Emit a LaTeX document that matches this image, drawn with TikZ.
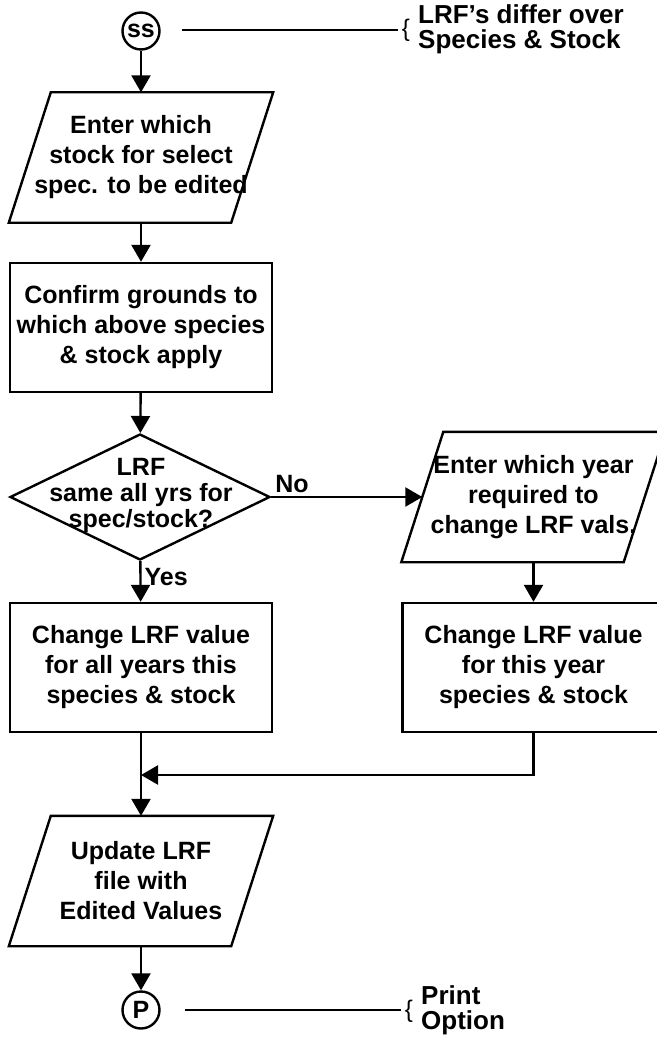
\documentclass[tikz,border=0pt]{standalone}
\usepackage{fontspec}
\setmainfont{Liberation Sans}
\usetikzlibrary{positioning,arrows.meta,shapes.geometric}

\begin{document}
\begin{tikzpicture}[x=0.5pt, y=-0.5pt, line width=1.2pt,
  >={Triangle[length=8.5pt,width=9.5pt]},
  txt/.style={font=\bfseries\fontsize{12.5}{15}\selectfont, align=center},
  process/.style={txt, draw, minimum width=131pt, minimum height=64.5pt,
                  inner sep=0pt},
  io/.style={txt, minimum width=110pt, minimum height=64pt, inner sep=0pt,
    append after command={\pgfextra{
      \draw ([xshift=10.5pt]\tikzlastnode.north west)
         -- ([xshift=10.5pt]\tikzlastnode.north east)
         -- ([xshift=-10.5pt]\tikzlastnode.south east)
         -- ([xshift=-10.5pt]\tikzlastnode.south west) -- cycle;}}},
  decision/.style={draw, diamond, minimum width=130pt, minimum height=63pt,
                   inner sep=0pt},
  connector/.style={draw, circle, minimum size=18.5pt, inner sep=0pt,
                    font=\bfseries\fontsize{12.5}{12.5}\selectfont},
  lbl/.style={font=\bfseries\fontsize{12.5}{12.5}\selectfont, inner sep=1.5pt},
  note/.style={font=\bfseries\fontsize{13}{12.5}\selectfont, align=left,
               anchor=west, inner sep=0pt},
  brace/.style={font=\fontsize{12}{12}\selectfont, inner sep=0pt},
  ]
  \clip[use as bounding box] (0,0) rectangle (657,1038);

  % main column
  \node[connector] (ss) at (141,31) {ss};
  \node[io] (whichstock) at (141,157.5)
    {Enter which\\stock for select\\spec. to be edited};
  \node[process] (grounds) at (141,327.5)
    {Confirm grounds to\\which above species\\\& stock apply};
  \node[decision] (same) at (140,497) {};
  \node[txt, font=\bfseries\fontsize{12.5}{13}\selectfont] (sametext) at (141,495)
    {LRF\\same all yrs for\\spec/stock?};
  \node[process] (allyears) at (141,667.5)
    {Change LRF value\\for all years this\\species \& stock};
  \coordinate (join) at (141,775);
  \node[io] (update) at (141,881)
    {Update LRF\\file with\\Edited Values};
  \node[connector] (print) at (141,1010) {P};

  % right column
  \node[io] (whichyear) at (533.5,497)
    {Enter which year\\required to\\change LRF vals.};
  \node[process] (thisyear) at (533.5,667.5)
    {Change LRF value\\for this year\\species \& stock};

  % side notes
  \coordinate (ssstart) at (182,30);
  \coordinate (ssend) at (398,30);
  \node[brace] (ssbrace) at (406,30) {\{};
  \node[note] (ssnote) at (417,29) {LRF's differ over\\Species \& Stock};
  \coordinate (printstart) at (185,1010);
  \coordinate (printend) at (401,1010);
  \node[brace] (printbrace) at (409,1011) {\{};
  \node[note] (printnote) at (420,1010) {Print\\Option};
  \draw (ssstart) -- (ssend);
  \draw (printstart) -- (printend);

  % flow
  \draw[->] (ss) -- (whichstock);
  \draw[->] (whichstock) -- (grounds);
  \draw[->] (grounds) -- (same);
  \draw[->] (same) -- node[lbl, pos=0, anchor=south west] {No} (whichyear);
  \draw[->] (same) -- node[lbl, pos=0.4, right] {Yes} (allyears);
  \draw[->] (whichyear) -- (thisyear);
  \draw[->] (thisyear.south) |- (join);
  \draw[->] (allyears) -- (update);
  \draw[->] (update) -- (print);
\end{tikzpicture}
\end{document}
